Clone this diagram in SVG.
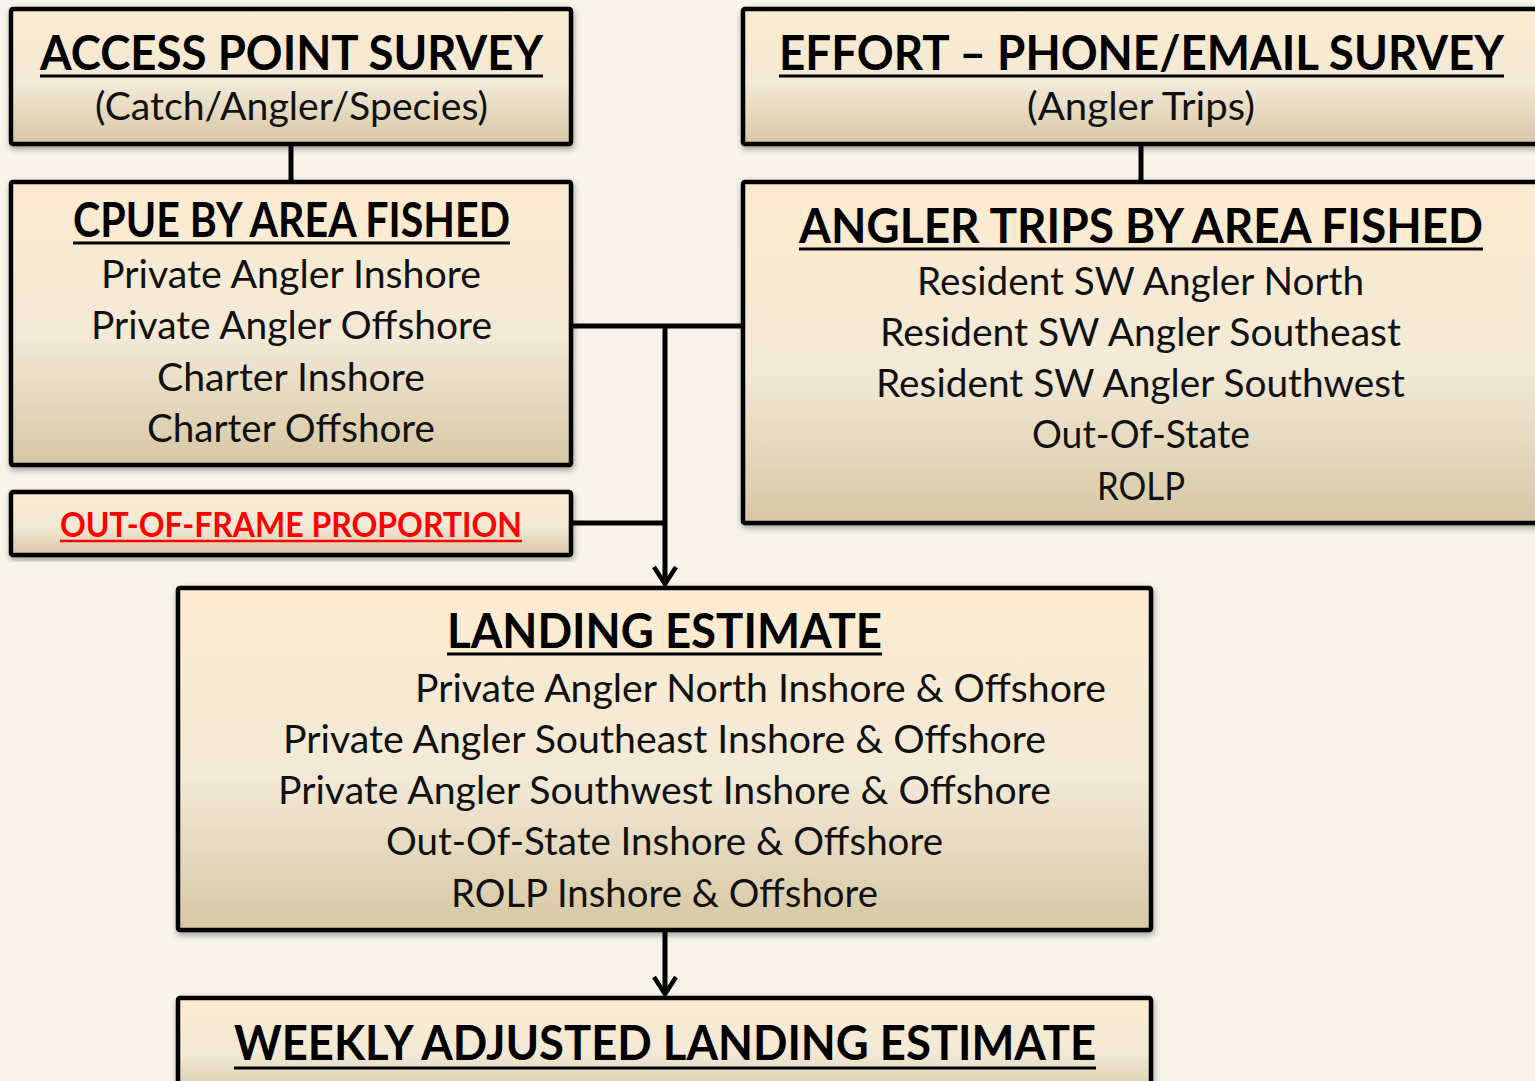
<svg xmlns="http://www.w3.org/2000/svg" width="1535" height="1081" viewBox="0 0 1535 1081">
<style>
.box{fill:url(#g);stroke:#000;stroke-width:4.5;filter:url(#sh)}
.t{font-family:Lato,"Liberation Sans",sans-serif;font-weight:bold;font-size:47px;fill:#000}
.r{font-family:Lato,"Liberation Sans",sans-serif;font-size:38px;fill:#111}
.red{font-family:Lato,"Liberation Sans",sans-serif;font-weight:bold;font-size:35px;fill:#f00}
.ul{stroke:#000;stroke-width:3}
.c{stroke:#000;stroke-width:5;fill:none}
</style>
<defs>
<linearGradient id="g" x1="0" y1="0" x2="0" y2="1">
<stop offset="0" stop-color="#FDEBCF"/>
<stop offset="0.55" stop-color="#F2E9D6"/>
<stop offset="1" stop-color="#D7C8A4"/>
</linearGradient>
<filter id="sh" x="-5%" y="-5%" width="110%" height="115%">
<feDropShadow dx="1" dy="3" stdDeviation="3" flood-opacity="0.35"/>
</filter>
<marker id="ah" markerUnits="userSpaceOnUse" markerWidth="30" markerHeight="30" viewBox="-24 -15 30 30" refX="0" refY="0" orient="auto">
<path d="M-17,-11 L0,0 L-17,11" fill="none" stroke="#000" stroke-width="4.5"/>
</marker>
</defs>
<rect width="1535" height="1081" fill="#F8F4E9"/>

<g id="connectors">
<line class="c" x1="291" y1="145" x2="291" y2="181"/>
<line class="c" x1="1141" y1="145" x2="1141" y2="181"/>
<line class="c" x1="572" y1="326" x2="742" y2="326"/>
<line class="c" x1="572" y1="523" x2="665" y2="523"/>
<path class="c" d="M665,326 L665,584" marker-end="url(#ah)"/>
<path class="c" d="M665,931 L665,994" marker-end="url(#ah)"/>
</g>

<g id="access">
<rect class="box" x="11" y="9" width="560" height="135" rx="2"/>
<text class="t" x="40" y="70" textLength="503" lengthAdjust="spacingAndGlyphs">ACCESS POINT SURVEY</text>
<line class="ul" x1="40" y1="76" x2="543" y2="76"/>
<text class="r" x="95" y="120" textLength="393" lengthAdjust="spacingAndGlyphs">(Catch/Angler/Species)</text>
</g>

<g id="effort">
<rect class="box" x="743" y="9" width="800" height="135" rx="2"/>
<text class="t" x="779" y="70" textLength="725" lengthAdjust="spacingAndGlyphs">EFFORT – PHONE/EMAIL SURVEY</text>
<line class="ul" x1="779" y1="76" x2="1504" y2="76"/>
<text class="r" x="1027" y="120" textLength="228" lengthAdjust="spacingAndGlyphs">(Angler Trips)</text>
</g>

<g id="cpue">
<rect class="box" x="11" y="182" width="560" height="283" rx="2"/>
<text class="t" x="73" y="237" textLength="437" lengthAdjust="spacingAndGlyphs">CPUE BY AREA FISHED</text>
<line class="ul" x1="73" y1="243" x2="510" y2="243"/>
<text class="r" x="101" y="288" textLength="380" lengthAdjust="spacingAndGlyphs">Private Angler Inshore</text>
<text class="r" x="91" y="339" textLength="401" lengthAdjust="spacingAndGlyphs">Private Angler Offshore</text>
<text class="r" x="157" y="391" textLength="268" lengthAdjust="spacingAndGlyphs">Charter Inshore</text>
<text class="r" x="147" y="442" textLength="288" lengthAdjust="spacingAndGlyphs">Charter Offshore</text>
</g>

<g id="trips">
<rect class="box" x="743" y="182" width="800" height="341" rx="2"/>
<text class="t" x="799" y="243" textLength="684" lengthAdjust="spacingAndGlyphs">ANGLER TRIPS BY AREA FISHED</text>
<line class="ul" x1="799" y1="249" x2="1483" y2="249"/>
<text class="r" x="917" y="295" textLength="447" lengthAdjust="spacingAndGlyphs">Resident SW Angler North</text>
<text class="r" x="880" y="346" textLength="521" lengthAdjust="spacingAndGlyphs">Resident SW Angler Southeast</text>
<text class="r" x="876" y="397" textLength="529" lengthAdjust="spacingAndGlyphs">Resident SW Angler Southwest</text>
<text class="r" x="1032" y="448" textLength="218" lengthAdjust="spacingAndGlyphs">Out-Of-State</text>
<text class="r" x="1097" y="500" textLength="88" lengthAdjust="spacingAndGlyphs">ROLP</text>
</g>

<g id="outofframe">
<rect class="box" x="11" y="492" width="560" height="63" rx="2"/>
<text class="red" x="60" y="537" textLength="462" lengthAdjust="spacingAndGlyphs">OUT-OF-FRAME PROPORTION</text>
<line x1="60" y1="541" x2="522" y2="541" stroke="#f00" stroke-width="2.5"/>
</g>

<g id="landing">
<rect class="box" x="178" y="588" width="973" height="342" rx="2"/>
<text class="t" x="447" y="648" textLength="435" lengthAdjust="spacingAndGlyphs">LANDING ESTIMATE</text>
<line class="ul" x1="447" y1="654" x2="882" y2="654"/>
<text class="r" x="415" y="702" textLength="691" lengthAdjust="spacingAndGlyphs">Private Angler North Inshore &amp; Offshore</text>
<text class="r" x="283" y="753" textLength="763" lengthAdjust="spacingAndGlyphs">Private Angler Southeast Inshore &amp; Offshore</text>
<text class="r" x="278" y="804" textLength="773" lengthAdjust="spacingAndGlyphs">Private Angler Southwest Inshore &amp; Offshore</text>
<text class="r" x="386" y="855" textLength="557" lengthAdjust="spacingAndGlyphs">Out-Of-State Inshore &amp; Offshore</text>
<text class="r" x="451" y="907" textLength="427" lengthAdjust="spacingAndGlyphs">ROLP Inshore &amp; Offshore</text>
</g>

<g id="weekly">
<rect class="box" x="178" y="998" width="973" height="100" rx="2"/>
<text class="t" x="234" y="1060" textLength="862" lengthAdjust="spacingAndGlyphs">WEEKLY ADJUSTED LANDING ESTIMATE</text>
<line class="ul" x1="234" y1="1068" x2="1096" y2="1068"/>
</g>
</svg>
